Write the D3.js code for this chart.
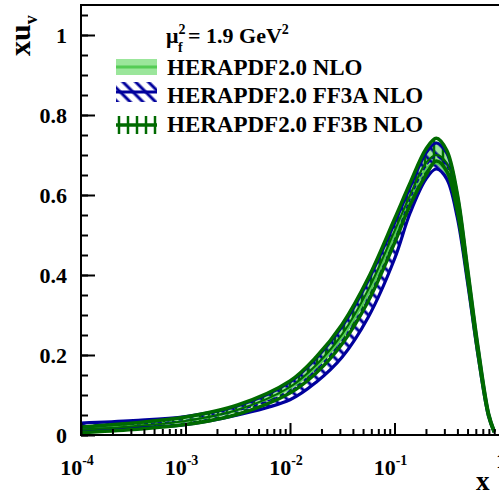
<!DOCTYPE html>
<html>
<head>
<meta charset="utf-8">
<script src="https://cdn.jsdelivr.net/npm/d3@7"></script>
<style>
  body { margin: 0; background: #fff; }
  text { font-family: 'Liberation Serif', 'Times New Roman', serif; font-weight: bold; fill: #000; }
</style>
</head>
<body>
<div id="chart"></div>
<script>
// x grid (log spaced) and the three PDF sets
xGrid = [1e-4, 3.16e-4, 1e-3, 3.16e-3, 0.01, 0.0178, 0.0316, 0.0562, 0.1, 0.141, 0.2, 0.251, 0.316, 0.398, 0.501, 0.631, 0.794, 0.9]

nloCentral = [0.016, 0.024, 0.035, 0.062, 0.118, 0.17, 0.245, 0.355, 0.5, 0.59, 0.665, 0.68, 0.655, 0.56, 0.39, 0.205, 0.05, 0.008]
nloUpper   = [0.02, 0.03, 0.043, 0.072, 0.135, 0.195, 0.275, 0.39, 0.535, 0.625, 0.71, 0.735, 0.71, 0.6, 0.41, 0.215, 0.053, 0.009]
nloLower   = [0.013, 0.021, 0.032, 0.058, 0.112, 0.163, 0.237, 0.345, 0.49, 0.583, 0.655, 0.672, 0.645, 0.552, 0.385, 0.2, 0.048, 0.007]

ff3aCentral = [0.02, 0.027, 0.036, 0.061, 0.11, 0.163, 0.235, 0.342, 0.487, 0.59, 0.672, 0.697, 0.672, 0.572, 0.395, 0.206, 0.05, 0.008]
ff3aUpper   = [0.03, 0.036, 0.046, 0.073, 0.133, 0.192, 0.272, 0.387, 0.53, 0.62, 0.705, 0.73, 0.705, 0.6, 0.41, 0.215, 0.053, 0.009]
ff3aLower   = [0.012, 0.018, 0.026, 0.05, 0.088, 0.132, 0.195, 0.295, 0.44, 0.555, 0.64, 0.665, 0.64, 0.545, 0.38, 0.198, 0.047, 0.007]

ff3bCentral = [0.013, 0.022, 0.035, 0.063, 0.12, 0.175, 0.252, 0.364, 0.51, 0.6, 0.68, 0.70, 0.68, 0.58, 0.4, 0.21, 0.051, 0.008]
ff3bUpper   = [0.02, 0.03, 0.045, 0.075, 0.135, 0.195, 0.277, 0.393, 0.54, 0.63, 0.715, 0.742, 0.712, 0.605, 0.415, 0.218, 0.054, 0.009]
ff3bLower   = [0.006, 0.014, 0.026, 0.052, 0.105, 0.155, 0.228, 0.335, 0.48, 0.575, 0.65, 0.685, 0.66, 0.56, 0.39, 0.202, 0.048, 0.007]

xMajor = [-4, -3, -2, -1]
yMajor = [0, 0.2, 0.4, 0.6, 0.8, 1]
yMajorLabels = ['0', '0.2', '0.4', '0.6', '0.8', '1']
legendLabels = ['HERAPDF2.0 NLO', 'HERAPDF2.0 FF3A NLO', 'HERAPDF2.0 FF3B NLO']

anchototal = 499
altototal  = 494
margin = { top: 5, left: 81, right: 0, bottom: 59 }
ancho = anchototal - margin.left - margin.right
alto  = altototal - margin.top - margin.bottom

lightGreen = '#9be69b'
midGreen   = '#55cc55'
blue       = '#00009c'
darkGreen  = '#006a00'

svg = d3.select('#chart')
  .append('svg')
  .attr('width', anchototal)
  .attr('height', altototal)

defs = svg.append('defs')
defs.append('pattern')
  .attr('id', 'hatchA')
  .attr('patternUnits', 'userSpaceOnUse')
  .attr('width', 9).attr('height', 9)
  .attr('patternTransform', 'rotate(-45)')
  .append('line')
    .attr('x1', 2).attr('y1', 0).attr('x2', 2).attr('y2', 9)
    .attr('stroke', blue).attr('stroke-width', 3)
defs.append('pattern')
  .attr('id', 'hatchB')
  .attr('patternUnits', 'userSpaceOnUse')
  .attr('width', 9).attr('height', 9)
  .append('line')
    .attr('x1', 2).attr('y1', 0).attr('x2', 2).attr('y2', 9)
    .attr('stroke', darkGreen).attr('stroke-width', 2.5)
defs.append('clipPath')
  .attr('id', 'clip')
  .append('rect')
    .attr('width', ancho).attr('height', alto)

g = svg.append('g')
  .attr('transform', `translate(${margin.left}, ${margin.top})`)

x = d3.scaleLog().domain([1e-4, 1]).range([0, ancho])
y = d3.scaleLinear().domain([0, 1.075]).range([alto, 0])

band = (lo, hi) => d3.area()
  .x((d, i) => x(xGrid[i]))
  .y0((d, i) => y(lo[i]))
  .y1((d, i) => y(hi[i]))
  .curve(d3.curveCatmullRom)(xGrid)
linea = vals => d3.line()
  .x((d, i) => x(xGrid[i]))
  .y((d, i) => y(vals[i]))
  .curve(d3.curveCatmullRom)(xGrid)

curvas = g.append('g').attr('clip-path', 'url(#clip)')

// bandas
curvas.append('path').attr('d', band(nloLower, nloUpper)).attr('fill', lightGreen)
curvas.append('path').attr('d', band(ff3aLower, ff3aUpper)).attr('fill', 'url(#hatchA)')
curvas.append('path').attr('d', band(ff3bLower, ff3bUpper)).attr('fill', 'url(#hatchB)')

// lineas
curvas.append('path').attr('d', linea(nloCentral))
  .attr('fill', 'none').attr('stroke', midGreen).attr('stroke-width', 2.5)
;[ff3aUpper, ff3aLower].forEach(v => {
  curvas.append('path').attr('d', linea(v))
    .attr('fill', 'none').attr('stroke', blue).attr('stroke-width', 3.2)
})
curvas.append('path').attr('d', linea(ff3aCentral))
  .attr('fill', 'none').attr('stroke', blue).attr('stroke-width', 1.5)
  .attr('stroke-dasharray', '4,3')
;[ff3bUpper, ff3bLower].forEach(v => {
  curvas.append('path').attr('d', linea(v))
    .attr('fill', 'none').attr('stroke', darkGreen).attr('stroke-width', 3.5)
})
curvas.append('path').attr('d', linea(ff3bCentral))
  .attr('fill', 'none').attr('stroke', darkGreen).attr('stroke-width', 2)

// marco (sin borde derecho visible)
g.append('path')
  .attr('d', `M${ancho},0H0V${alto}H${ancho}`)
  .attr('fill', 'none').attr('stroke', '#000').attr('stroke-width', 2)

// ticks eje x
xMinor = []
d3.range(-4, 0).forEach(e => d3.range(2, 10).forEach(m => xMinor.push(m * Math.pow(10, e))))
xAxisCall = d3.axisTop(x).tickValues(xMajor.map(e => Math.pow(10, e))).tickSize(12).tickFormat('')
xAxisMinor = d3.axisTop(x).tickValues(xMinor).tickSize(6).tickFormat('')
;[xAxisCall, xAxisMinor].forEach(ax => {
  const a = g.append('g').attr('transform', `translate(0, ${alto})`).call(ax)
  a.select('.domain').remove()
  a.selectAll('line').attr('stroke', '#000').attr('stroke-width', 2)
})

// ticks eje y
yMinor = d3.range(0, 1.0751, 0.05)
yAxisCall = d3.axisRight(y).tickValues(yMajor).tickSize(14).tickFormat('')
yAxisMinor = d3.axisRight(y).tickValues(yMinor).tickSize(7).tickFormat('')
;[yAxisCall, yAxisMinor].forEach(ax => {
  const a = g.append('g').call(ax)
  a.select('.domain').remove()
  a.selectAll('line').attr('stroke', '#000').attr('stroke-width', 2)
})

// etiquetas y
g.selectAll('.ylab').data(yMajor).enter()
  .append('text')
  .attr('class', 'ylab')
  .attr('x', -14)
  .attr('y', d => y(d) + 8)
  .attr('text-anchor', 'end')
  .style('font-size', '22px')
  .text((d, i) => yMajorLabels[i])

// etiquetas x
xl = g.selectAll('.xlab').data(xMajor).enter()
  .append('text')
  .attr('class', 'xlab')
  .attr('x', d => x(Math.pow(10, d)) - 4)
  .attr('y', alto + 40)
  .attr('text-anchor', 'middle')
  .style('font-size', '22px')
xl.append('tspan').text('10')
xl.append('tspan').attr('dy', -10).style('font-size', '14px').text(d => d)
g.append('text').attr('x', ancho - 3).attr('y', alto + 33)
  .style('font-size', '22px').text('1')

// titulos de ejes
g.append('text').attr('x', ancho - 23).attr('y', alto + 55)
  .style('font-size', '27px').text('x')
yt = svg.append('text')
  .attr('transform', 'translate(30, 56) rotate(-90)')
  .style('font-size', '30px')
yt.append('tspan').text('xu')
yt.append('tspan').attr('dy', 7).style('font-size', '18px').text('v')

// leyenda
leg = svg.append('g')
mu = leg.append('text').attr('x', 166).attr('y', 43).style('font-size', '22px')
mu.append('tspan').text('μ')
mu.append('tspan').attr('dy', -9).style('font-size', '14px').text('2')
leg.append('text').attr('x', 178).attr('y', 52).style('font-size', '14px').text('f')
gev = leg.append('text').attr('x', 188).attr('y', 43).style('font-size', '22px')
gev.append('tspan').text('= 1.9 GeV')
gev.append('tspan').attr('dy', -9).style('font-size', '14px').text('2')

legY = [67, 92, 125]
legBase = [75, 103, 132]
leg.append('rect').attr('x', 116).attr('y', legY[0] - 8).attr('width', 41).attr('height', 16).attr('fill', lightGreen)
leg.append('line').attr('x1', 116).attr('x2', 157).attr('y1', legY[0]).attr('y2', legY[0])
  .attr('stroke', midGreen).attr('stroke-width', 3)
leg.append('rect').attr('x', 116).attr('y', legY[1] - 10).attr('width', 41).attr('height', 20).attr('fill', 'url(#hatchA)')
leg.append('line').attr('x1', 116).attr('x2', 157).attr('y1', legY[1]).attr('y2', legY[1])
  .attr('stroke', blue).attr('stroke-width', 3)
leg.append('rect').attr('x', 116).attr('y', legY[2] - 9).attr('width', 41).attr('height', 18).attr('fill', 'url(#hatchB)')
leg.append('line').attr('x1', 116).attr('x2', 157).attr('y1', legY[2]).attr('y2', legY[2])
  .attr('stroke', darkGreen).attr('stroke-width', 3.5)

leg.selectAll('.legtxt').data(legendLabels).enter()
  .append('text')
  .attr('class', 'legtxt')
  .attr('x', 167)
  .attr('y', (d, i) => legBase[i])
  .style('font-size', '23px')
  .text(d => d)
</script>
</body>
</html>
